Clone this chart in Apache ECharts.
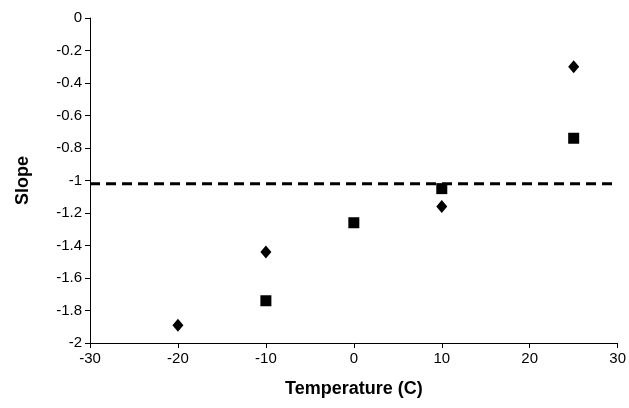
<!DOCTYPE html>
<html><head><meta charset="utf-8">
<script src="https://cdn.jsdelivr.net/npm/echarts@6/dist/echarts.min.js"></script>
<style>html,body{margin:0;background:#fff}#c{width:629px;height:408px}</style>
</head><body><div id="c"></div>
<script>
const diamondData = [[-20, -1.89], [-10, -1.44], [10, -1.16], [25, -0.30]];
const squareData = [[-10, -1.74], [0, -1.26], [10, -1.05], [25, -0.74]];
const refLine = -1.02;

const chart = echarts.init(document.getElementById('c'));
const axisCommon = {
  axisLine: { show: true, onZero: false, lineStyle: { color: '#000', width: 1 } },
  axisTick: { show: true, inside: false, length: 5, lineStyle: { color: '#000' } },
  axisLabel: { color: '#000', fontFamily: 'Liberation Sans', fontSize: 15 },
  splitLine: { show: false },
  nameTextStyle: { color: '#000', fontFamily: 'Liberation Sans', fontSize: 18, fontWeight: 'bold' }
};
chart.setOption({
  animation: false,
  grid: { left: 90, right: 11, top: 18, bottom: 65 },
  xAxis: Object.assign({ type: 'value', min: -30, max: 30, interval: 10,
    name: 'Temperature (C)', nameLocation: 'middle', nameGap: 37 }, axisCommon),
  yAxis: Object.assign({ type: 'value', min: -2, max: 0, interval: 0.2,
    name: 'Slope', nameLocation: 'middle', nameGap: 58 }, axisCommon),
  series: [
    { type: 'scatter', data: diamondData, symbol: 'diamond', symbolSize: [11, 13],
      itemStyle: { color: '#000', opacity: 1 } },
    { type: 'scatter', data: squareData, symbol: 'rect', symbolSize: 11,
      itemStyle: { color: '#000', opacity: 1 } },
    { type: 'line', data: [[-30, refLine], [30, refLine]], symbol: 'none',
      lineStyle: { color: '#000', width: 3, type: [10, 6] } }
  ]
});
</script></body></html>
